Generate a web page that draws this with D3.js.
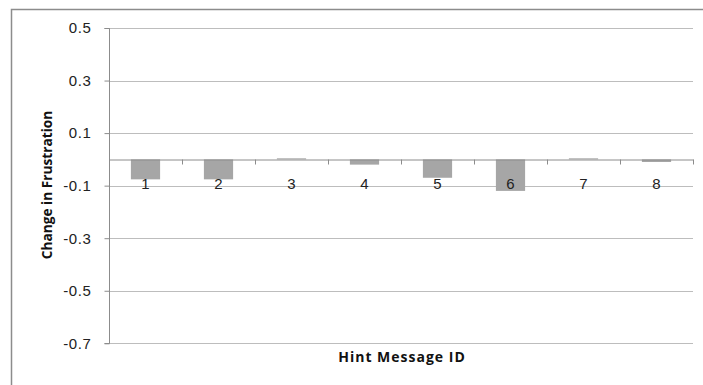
<!DOCTYPE html>
<html><head><meta charset="utf-8">
<script src="https://cdn.jsdelivr.net/npm/d3@7"></script>
<style>body{margin:0;background:#fff}svg{display:block}</style>
</head><body>
<script>
const categories = ["1","2","3","4","5","6","7","8"];
const values = [-0.076, -0.076, 0.004, -0.02, -0.07, -0.12, 0.004, -0.01];
const yTicks = [0.5, 0.3, 0.1, -0.1, -0.3, -0.5, -0.7];
const yLabel = "Change in Frustration";
const xLabel = "Hint Message ID";

const W = 703, H = 385;
const svg = d3.select("body").append("svg").attr("width", W).attr("height", H);
svg.append("rect").attr("x", 11.5).attr("y", 9.5).attr("width", 720).attr("height", 400)
  .attr("fill", "#fff").attr("stroke", "#8c8c8c").attr("stroke-width", 1.5);

const L = 109, R = 693, T = 28, B = 343.3;
const x = d3.scaleBand().domain(categories).range([L, R]).paddingInner(0.6).paddingOuter(0.3);
const xb = d3.scaleBand().domain(categories).range([L, R]);
const y = d3.scaleLinear().domain([-0.7, 0.5]).range([B, T]);
const fmt = d => d3.format(".1f")(d).replace("\u2212", "-");

// gridlines
svg.append("g").selectAll("line").data(yTicks).join("line")
  .attr("x1", L).attr("x2", R).attr("y1", d => Math.round(y(d)) + 0.5).attr("y2", d => Math.round(y(d)) + 0.5)
  .attr("stroke", "#bdbdbd").attr("stroke-width", 1);

// y axis
const yAxis = d3.axisLeft(y).tickValues(yTicks).tickSize(5).tickFormat(fmt);
const gy = svg.append("g").attr("transform", `translate(${L + 0.5},0)`).call(yAxis);
gy.select(".domain").attr("stroke", "#8c8c8c").attr("d", `M-5,${Math.round(T)+0.5}H0V${Math.round(B)+0.5}H-5`);
gy.selectAll(".tick line").attr("stroke", "#8c8c8c");
gy.selectAll(".tick text").attr("font-family", "Liberation Sans, Arial, sans-serif").attr("font-size", 15)
  .attr("fill", "#222").attr("x", -18).attr("letter-spacing", 0.6);

// bars
svg.append("g").selectAll("rect").data(values).join("rect")
  .attr("x", (d, i) => x(categories[i]))
  .attr("width", x.bandwidth())
  .attr("y", d => y(Math.max(0, d)))
  .attr("height", d => Math.max(1, Math.abs(y(d) - y(0))))
  .attr("fill", "#a6a6a6");

// x axis at zero
const y0 = Math.round(y(0)) + 0.5;
const xAxis = d3.axisBottom(xb).tickSize(0).tickSizeOuter(0);
const gx = svg.append("g").attr("transform", `translate(0,${y0})`).call(xAxis);
gx.select(".domain").attr("stroke", "#8c8c8c");
gx.selectAll(".tick text").attr("font-family", "Liberation Sans, Arial, sans-serif").attr("font-size", 15)
  .attr("fill", "#222").attr("y", 29).attr("dy", 0);
// category boundary tick marks
svg.append("g").selectAll("line").data(d3.range(categories.length + 1)).join("line")
  .attr("x1", i => Math.round(L + i * xb.step()) + 0.5).attr("x2", i => Math.round(L + i * xb.step()) + 0.5)
  .attr("y1", y0).attr("y2", y0 + 5).attr("stroke", "#8c8c8c");

// axis titles
svg.append("text").attr("transform", `translate(52,185) rotate(-90)`).attr("text-anchor", "middle")
  .attr("font-family", "Open Sans, Liberation Sans, sans-serif").attr("font-weight", "bold").attr("font-size", 13.7)
  .attr("fill", "#111").text(yLabel);
svg.append("text").attr("x", 402).attr("y", 362).attr("text-anchor", "middle")
  .attr("font-family", "Open Sans, Liberation Sans, sans-serif").attr("font-weight", "bold").attr("font-size", 14)
  .attr("letter-spacing", 1).attr("fill", "#111").text(xLabel);
</script>
</body></html>
